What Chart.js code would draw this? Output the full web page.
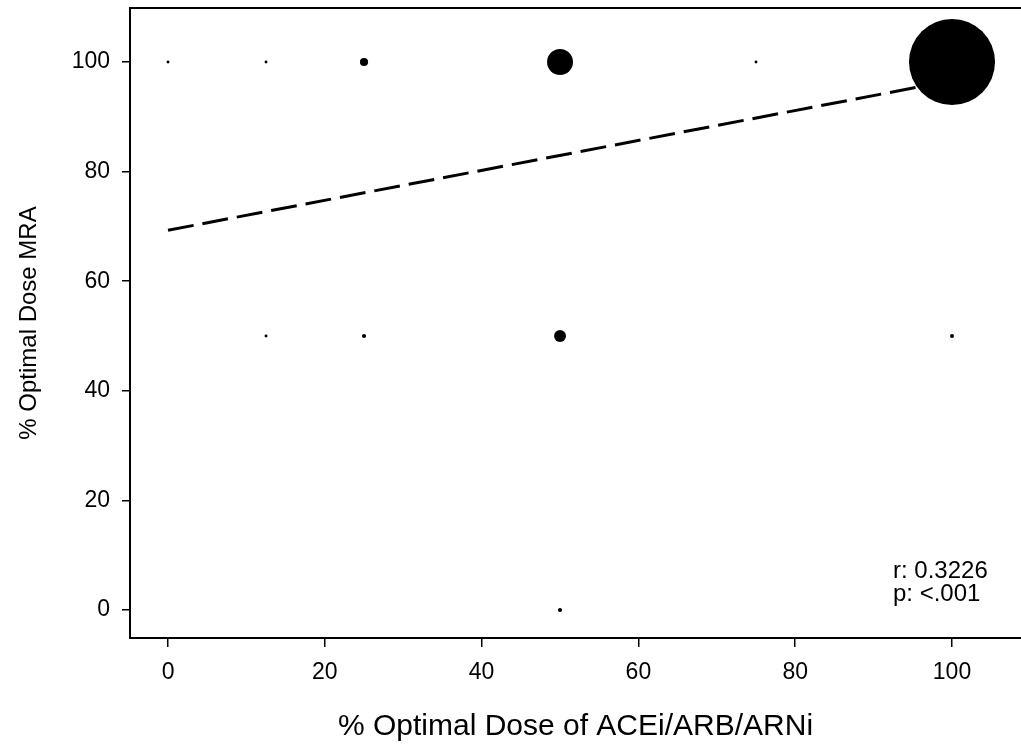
<!DOCTYPE html>
<html>
<head>
<meta charset="utf-8">
<script src="https://cdn.jsdelivr.net/npm/chart.js@4.4.1/dist/chart.umd.min.js"></script>
<style>
    body { margin: 0; background: #fff; }
    #wrap { width: 1021px; height: 748px; }
</style>
</head>
<body>
<div id="wrap"><canvas id="bubbleChart" width="1021" height="748"></canvas></div>
<script>
// bubbles: x = % dose ACEi/ARB/ARNi, y = % dose MRA, n = patient count (bubble area)
const bubbleX = [0, 12.5, 25, 50, 75, 100, 12.5, 25, 50, 100, 50];
const bubbleY = [100, 100, 100, 100, 100, 100, 50, 50, 50, 50, 0];
const bubbleN = [1, 1, 8, 80, 1, 880, 1, 2, 17, 2, 2];

// regression line end points
const fitX = [0, 100];
const fitY = [69.3, 96.6];

const xTicks = [0, 20, 40, 60, 80, 100];
const yTicks = [0, 20, 40, 60, 80, 100];

const statLines = ["r: 0.3226", "p: <.001"];

const fontFamily = "'Liberation Sans', Arial, sans-serif";

const bubbleData = bubbleX.map(function (x, i) {
    return { x: x, y: bubbleY[i], r: 1.45 * Math.sqrt(bubbleN[i]) };
});
const fitData = fitX.map(function (x, i) {
    return { x: x, y: fitY[i] };
});

// top frame line + r/p text
const framePlugin = {
    id: 'frame',
    afterDraw: function (chart) {
        const ctx = chart.ctx;
        const a = chart.chartArea;
        ctx.save();
        ctx.strokeStyle = '#000';
        ctx.lineWidth = 2;
        ctx.beginPath();
        ctx.moveTo(a.left, a.top);
        ctx.lineTo(a.right, a.top);
        ctx.stroke();

        ctx.fillStyle = '#000';
        ctx.font = "24px " + fontFamily;
        ctx.textAlign = 'left';
        ctx.textBaseline = 'alphabetic';
        ctx.fillText(statLines[0], a.right - 128, a.bottom - 60);
        ctx.fillText(statLines[1], a.right - 128, a.bottom - 37);
        ctx.restore();
    }
};

function fixTicks(list) {
    return function (scale) {
        scale.ticks = list.map(function (v) { return { value: v }; });
    };
}

const config = {
    type: 'bubble',
    data: {
        datasets: [
            {
                type: 'bubble',
                label: 'patients',
                data: bubbleData,
                backgroundColor: '#000',
                borderWidth: 0,
                clip: false,
                order: 0
            },
            {
                type: 'line',
                label: 'fit',
                data: fitData,
                borderColor: '#000',
                borderWidth: 3,
                borderDash: [26, 9],
                pointRadius: 0,
                fill: false,
                order: 1
            }
        ]
    },
    options: {
        responsive: false,
        animation: false,
        events: [],
        layout: { autoPadding: false, padding: { top: 8, right: 0, left: 0, bottom: 0 } },
        plugins: {
            legend: { display: false },
            tooltip: { enabled: false }
        },
        scales: {
            x: {
                type: 'linear',
                position: 'bottom',
                min: -4.85,
                max: 108.8,
                afterBuildTicks: fixTicks(xTicks),
                afterFit: function (scale) {
                    scale.height = 110;
                    scale.paddingLeft = 0;
                    scale.paddingRight = 0;
                },
                grid: { drawOnChartArea: false, drawTicks: true, tickLength: 9, color: '#000', lineWidth: 1.5 },
                border: { display: true, color: '#000', width: 2 },
                ticks: { color: '#000', font: { family: fontFamily, size: 23 }, padding: 12, maxRotation: 0 },
                title: {
                    display: true,
                    text: '% Optimal Dose of ACEi/ARB/ARNi',
                    color: '#000',
                    font: { family: fontFamily, size: 30 },
                    padding: { top: 0, bottom: 3 }
                }
            },
            y: {
                type: 'linear',
                position: 'left',
                min: -5.1,
                max: 109.85,
                afterBuildTicks: fixTicks(yTicks),
                afterFit: function (scale) {
                    scale.width = 130;
                    scale.paddingTop = 0;
                    scale.paddingBottom = 0;
                },
                grid: { drawOnChartArea: false, drawTicks: true, tickLength: 8, color: '#000', lineWidth: 1.5 },
                border: { display: true, color: '#000', width: 2 },
                ticks: { color: '#000', font: { family: fontFamily, size: 23 }, padding: 12 },
                title: {
                    display: true,
                    text: '% Optimal Dose MRA',
                    color: '#000',
                    font: { family: fontFamily, size: 24 },
                    padding: { top: 15, bottom: 0 }
                }
            }
        }
    },
    plugins: [framePlugin]
};

var chart = new Chart(document.getElementById('bubbleChart'), config);
</script>
</body>
</html>
